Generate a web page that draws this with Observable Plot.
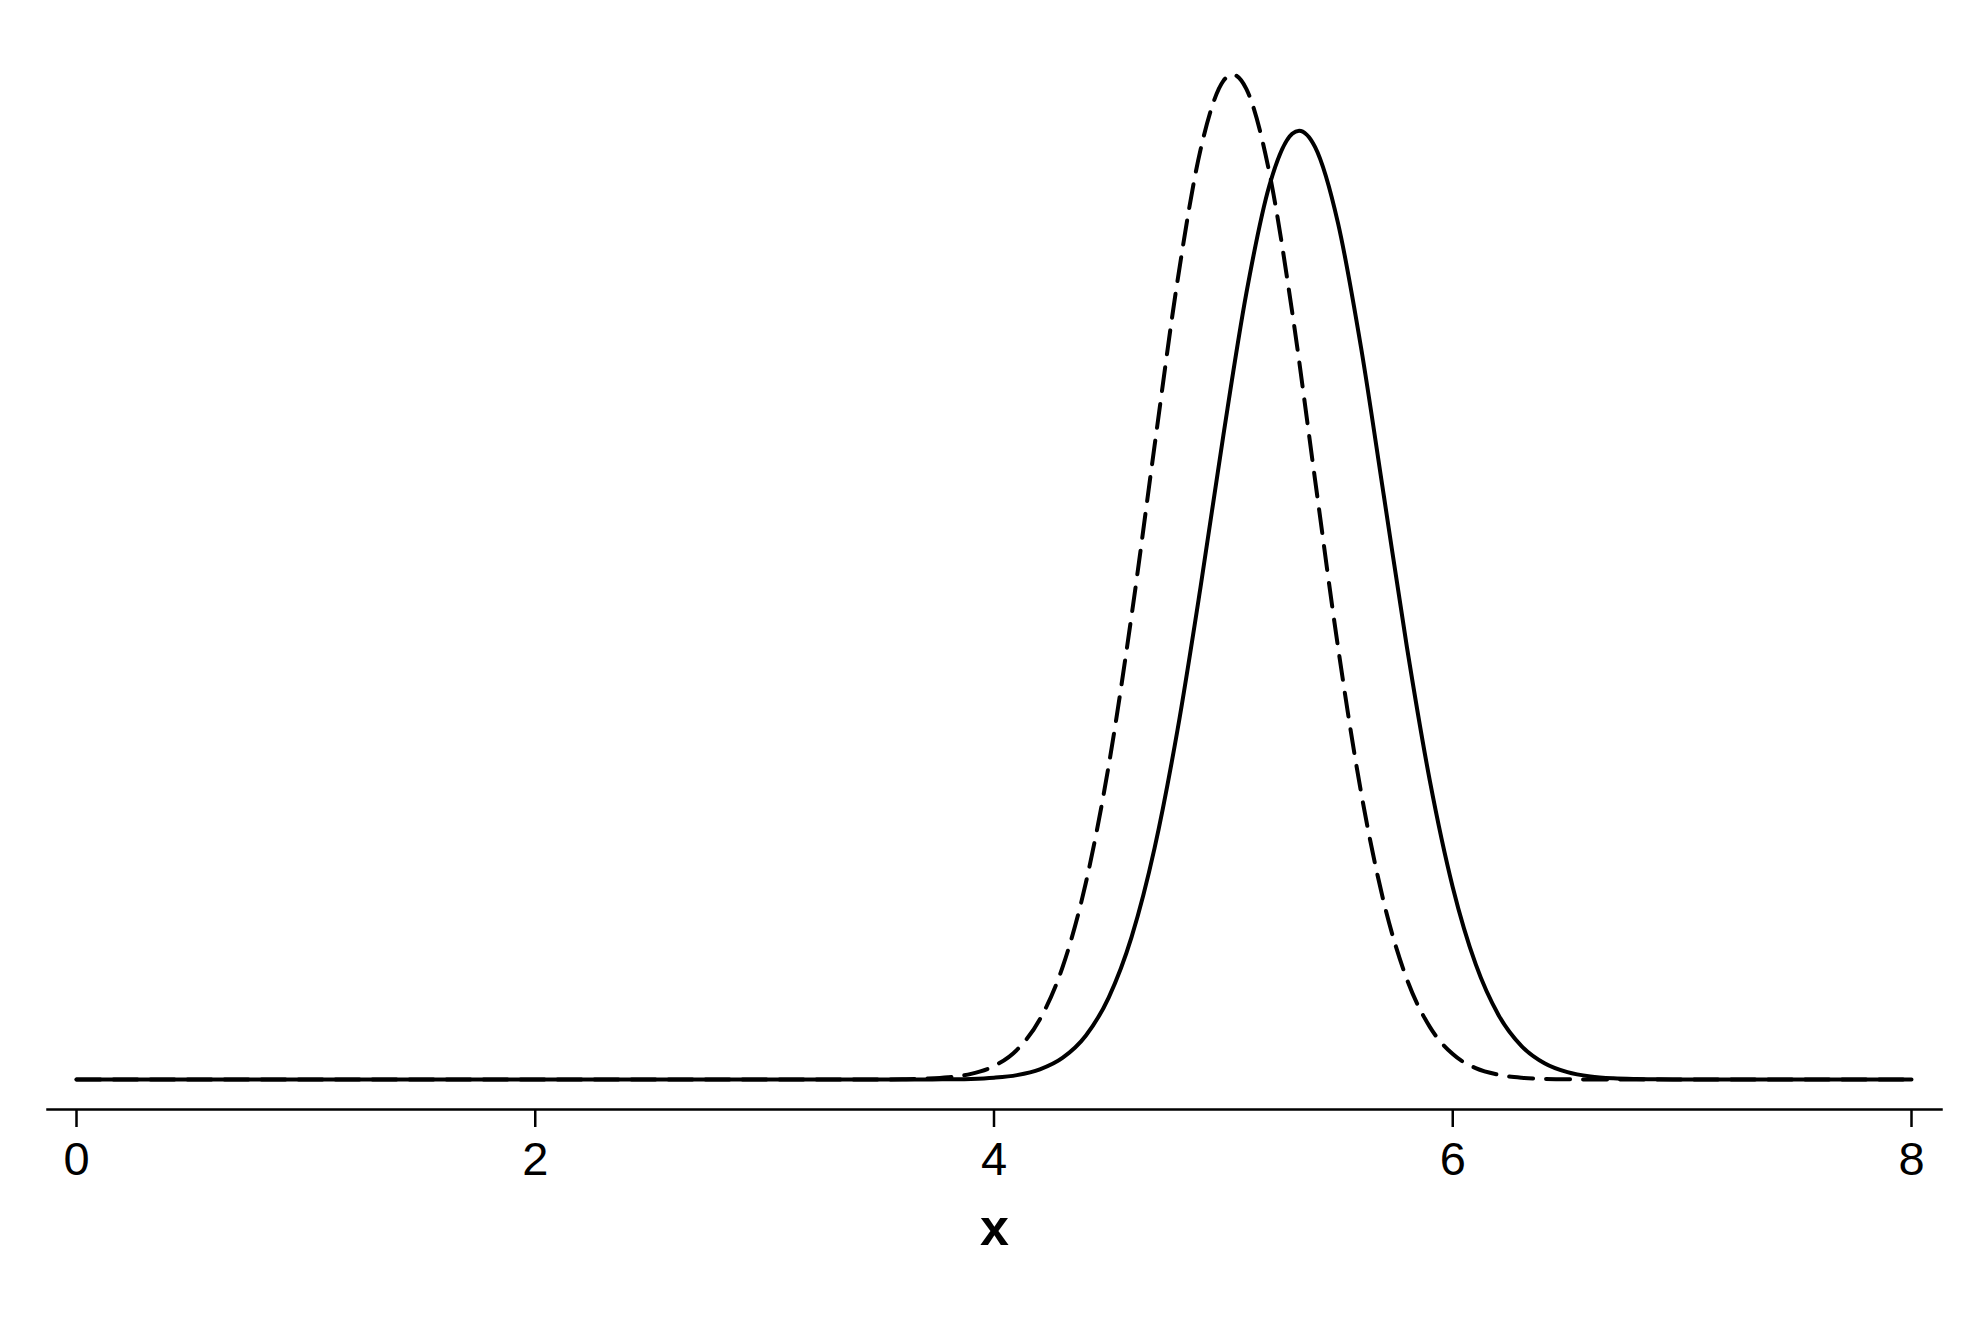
<!DOCTYPE html>
<html>
<head>
<meta charset="utf-8">
<script src="https://cdn.jsdelivr.net/npm/d3@7"></script>
<script src="https://cdn.jsdelivr.net/npm/@observablehq/plot@0.6"></script>
<style>
  html, body { margin: 0; padding: 0; background: #fff; }
  #chart svg { display: block; }
</style>
</head>
<body>
<div id="chart"></div>
<script>
// Values
const xTicks = [0, 2, 4, 6, 8];
const xLabel = "x";

// dashed curve
const dashedX = [0, 1, 2, 3, 3.5, 3.6, 3.7, 3.8, 3.9, 4.0, 4.1, 4.2, 4.3, 4.4, 4.5, 4.6, 4.7, 4.8, 4.9, 5.0, 5.04,
  5.1, 5.2, 5.3, 5.4, 5.5, 5.6, 5.7, 5.8, 5.9, 6.0, 6.1, 6.2, 6.3, 6.4, 6.5, 6.6, 7, 8];
const dashedY = [0, 0, 0, 0, 0, 0.0003, 0.0009, 0.0024, 0.0063, 0.0151, 0.0332, 0.0675, 0.1268, 0.2200, 0.3520, 0.5206, 0.7106, 0.8956, 1.0422, 1.1198, 1.127,
  1.1109, 1.0176, 0.8606, 0.6720, 0.4845, 0.3225, 0.1982, 0.1125, 0.0590, 0.0285, 0.0127, 0.0053, 0.0020, 0.0007, 0.0002, 0.0001, 0, 0];

// solid curve
const solidX = [0, 1, 2, 3, 3.5, 3.7, 3.8, 3.9, 4.0, 4.1, 4.2, 4.3, 4.4, 4.5, 4.6, 4.7, 4.8, 4.9, 5.0, 5.1, 5.2, 5.3, 5.33,
  5.4, 5.5, 5.6, 5.7, 5.8, 5.9, 6.0, 6.1, 6.2, 6.3, 6.4, 6.5, 6.6, 6.7, 6.8, 6.9, 7.0, 8];
const solidY = [0, 0, 0, 0, 0, 0, 0.0003, 0.0007, 0.0020, 0.0049, 0.0114, 0.0245, 0.0491, 0.0919, 0.1599, 0.2594, 0.3919, 0.5514, 0.7225, 0.8815, 1.0020, 1.0606, 1.064,
  1.0456, 0.9601, 0.8211, 0.6539, 0.4851, 0.3352, 0.2157, 0.1293, 0.0721, 0.0375, 0.0182, 0.0082, 0.0034, 0.0013, 0.0005, 0.0002, 0, 0];

const dashed = dashedX.map((x, i) => ({x, y: dashedY[i]}));
const solid = solidX.map((x, i) => ({x, y: solidY[i]}));
const yMax = d3.max([...dashedY, ...solidY]);

const chart = Plot.plot({
  width: 1988,
  height: 1326,
  marginLeft: 47,
  marginRight: 47,
  marginTop: 74,
  marginBottom: 217,
  style: {fontFamily: "'Liberation Sans', Arial, Helvetica, sans-serif", background: "#fff", color: "#000"},
  x: {domain: [0, 8], insetLeft: 29, insetRight: 30},
  y: {domain: [0, yMax], insetBottom: 30, axis: null},
  marks: [
    Plot.frame({anchor: "bottom", stroke: "#000", strokeWidth: 2.5}),
    Plot.axisX(xTicks, {tickSize: 18, tickPadding: 14, fontSize: 47, strokeWidth: 2.5, stroke: "#000", fill: "#000", label: null, tickFormat: d3.format("d")}),
    Plot.text([xLabel], {frameAnchor: "bottom", dy: 135, fontSize: 52, fontWeight: "bold", fill: "#000"}),
    Plot.line(solid, {x: "x", y: "y", stroke: "#000", strokeWidth: 4, curve: "monotone-x"}),
    Plot.line(dashed, {x: "x", y: "y", stroke: "#000", strokeWidth: 4, strokeDasharray: "24,13", curve: "monotone-x"})
  ]
});
document.getElementById("chart").appendChild(chart);
</script>
</body>
</html>
